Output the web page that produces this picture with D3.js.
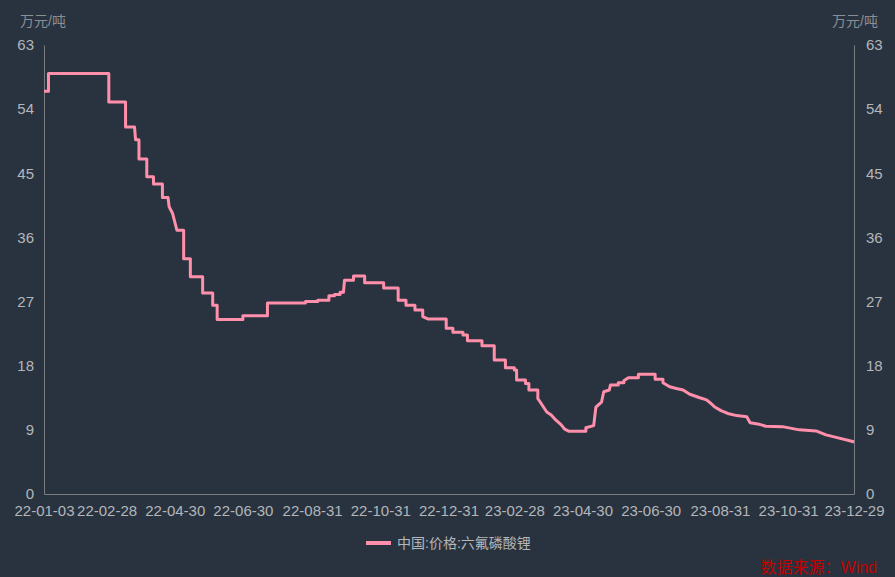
<!DOCTYPE html>
<html><head><meta charset="utf-8">
<script src="https://cdn.jsdelivr.net/npm/d3@7"></script>
<style>
html,body{margin:0;padding:0;background:#29333f;}
svg{display:block;}
text{font-family:"Liberation Sans","Noto Sans CJK SC",sans-serif;}
</style></head>
<body><svg id="c" width="895" height="577"></svg>
<script>
const dates = ["2022-01-03","2022-01-07","2022-01-07","2022-03-02","2022-03-02","2022-03-17","2022-03-17","2022-03-25","2022-03-26","2022-03-29","2022-03-29","2022-04-05","2022-04-05","2022-04-11","2022-04-11","2022-04-19","2022-04-19","2022-04-24","2022-04-25","2022-04-28","2022-05-02","2022-05-08","2022-05-08","2022-05-14","2022-05-14","2022-05-25","2022-05-25","2022-06-03","2022-06-03","2022-06-07","2022-06-07","2022-06-30","2022-06-30","2022-07-22","2022-07-22","2022-08-25","2022-08-25","2022-09-05","2022-09-05","2022-09-15","2022-09-15","2022-09-20","2022-09-20","2022-09-25","2022-09-25","2022-09-28","2022-09-29","2022-10-07","2022-10-07","2022-10-17","2022-10-17","2022-11-03","2022-11-03","2022-11-16","2022-11-16","2022-11-23","2022-11-23","2022-12-01","2022-12-01","2022-12-08","2022-12-08","2022-12-13","2022-12-29","2022-12-29","2023-01-04","2023-01-04","2023-01-13","2023-01-13","2023-01-17","2023-01-17","2023-01-30","2023-01-30","2023-02-10","2023-02-10","2023-02-20","2023-02-20","2023-02-28","2023-02-28","2023-03-02","2023-03-02","2023-03-10","2023-03-10","2023-03-13","2023-03-13","2023-03-21","2023-03-21","2023-03-29","2023-04-02","2023-04-06","2023-04-11","2023-04-14","2023-04-18","2023-05-03","2023-05-03","2023-05-10","2023-05-12","2023-05-17","2023-05-19","2023-05-24","2023-05-25","2023-06-01","2023-06-01","2023-06-06","2023-06-06","2023-06-10","2023-06-19","2023-06-19","2023-07-04","2023-07-04","2023-07-11","2023-07-11","2023-07-17","2023-07-23","2023-07-29","2023-08-04","2023-08-13","2023-08-19","2023-08-23","2023-08-26","2023-09-01","2023-09-07","2023-09-15","2023-09-24","2023-09-27","2023-10-05","2023-10-11","2023-10-26","2023-11-10","2023-11-25","2023-12-04","2023-12-13","2023-12-27","2023-12-29"];
const prices = [56.5,56.5,59.0,59.0,55.0,55.0,51.5,51.5,49.7,49.7,47.0,47.0,44.5,44.5,43.5,43.5,41.6,41.6,40.3,39.4,37.0,37.0,33.0,33.0,30.5,30.5,28.2,28.2,26.5,26.5,24.5,24.5,25.0,25.0,26.8,26.8,27.0,27.0,27.2,27.2,27.8,27.8,28.0,28.0,28.3,28.3,30.0,30.0,30.6,30.6,29.65,29.65,28.9,28.9,27.2,27.2,26.5,26.5,25.8,25.8,24.9,24.55,24.55,23.25,23.25,22.7,22.7,22.3,22.3,21.5,21.5,20.8,20.8,18.8,18.8,17.7,17.7,17.4,17.4,16.0,16.0,15.5,15.5,14.6,14.6,13.4,11.5,11.1,10.4,9.7,9.1,8.8,8.8,9.3,9.6,12.2,12.9,14.35,14.6,15.3,15.3,15.6,15.6,15.9,16.3,16.3,16.8,16.8,16.1,16.1,15.6,15.05,14.8,14.6,14.0,13.5,13.2,12.7,12.25,11.7,11.3,11.0,10.85,10.0,9.8,9.5,9.45,9.0,8.85,8.3,7.95,7.4,7.3];
const xTickLabels = ["22-01-03","22-02-28","22-04-30","22-06-30","22-08-31","22-10-31","22-12-31","23-02-28","23-04-30","23-06-30","23-08-31","23-10-31","23-12-29"];
const yTicks = [0,9,18,27,36,45,54,63];
const seriesName = "中国:价格:六氟磷酸锂";
const unitLabel = "万元/吨";
const sourceText = "数据来源：Wind";

const svg = d3.select("#c");
const L = 44, R = 854, T = 45, B = 494;
const parse = d3.timeParse("%Y-%m-%d");
const parseTick = d3.timeParse("%y-%m-%d");
const data = dates.map((d,i)=>({d:parse(d), v:prices[i]}));
const x = d3.scaleTime().domain([parse("2022-01-03"), parse("2023-12-29")]).range([L,R]);
const y = d3.scaleLinear().domain([0,63]).range([B,T]);

const tickColor = "#b3b6ba", axisColor = "#7a7d80";

const yl = svg.append("g").attr("transform",`translate(${L},0)`)
  .call(d3.axisLeft(y).tickValues(yTicks).tickSize(0).tickPadding(10));
const yr = svg.append("g").attr("transform",`translate(${R},0)`)
  .call(d3.axisRight(y).tickValues(yTicks).tickSize(0).tickPadding(12));
const xa = svg.append("g").attr("transform",`translate(0,${B})`)
  .call(d3.axisBottom(x).tickValues(xTickLabels.map(parseTick)).tickSize(0).tickPadding(11)
    .tickFormat(d3.timeFormat("%y-%m-%d")));
[yl,yr,xa].forEach(g=>{
  g.select(".domain").attr("stroke",axisColor).attr("stroke-width",1);
  g.selectAll("text").attr("fill",tickColor).style("font-size","15px");
});

svg.append("text").attr("x",20).attr("y",26).attr("fill","#8b8f94").style("font-size","14px").text(unitLabel);
svg.append("text").attr("x",878).attr("y",26).attr("text-anchor","end").attr("fill","#8b8f94").style("font-size","14px").text(unitLabel);

const line = d3.line().x(d=>x(d.d)).y(d=>y(d.v));
svg.append("path").datum(data).attr("d",line).attr("fill","none")
  .attr("stroke","#ff8fab").attr("stroke-width",3).attr("stroke-linejoin","round");

svg.append("line").attr("x1",366).attr("x2",391).attr("y1",543).attr("y2",543)
  .attr("stroke","#ff8fab").attr("stroke-width",4);
svg.append("text").attr("x",397).attr("y",548).attr("fill","#b3b6ba").style("font-size","14px").text(seriesName);

svg.append("text").attr("x",877).attr("y",573).attr("text-anchor","end").attr("fill","#c00000").style("font-size","16px").text(sourceText);
</script></body></html>
